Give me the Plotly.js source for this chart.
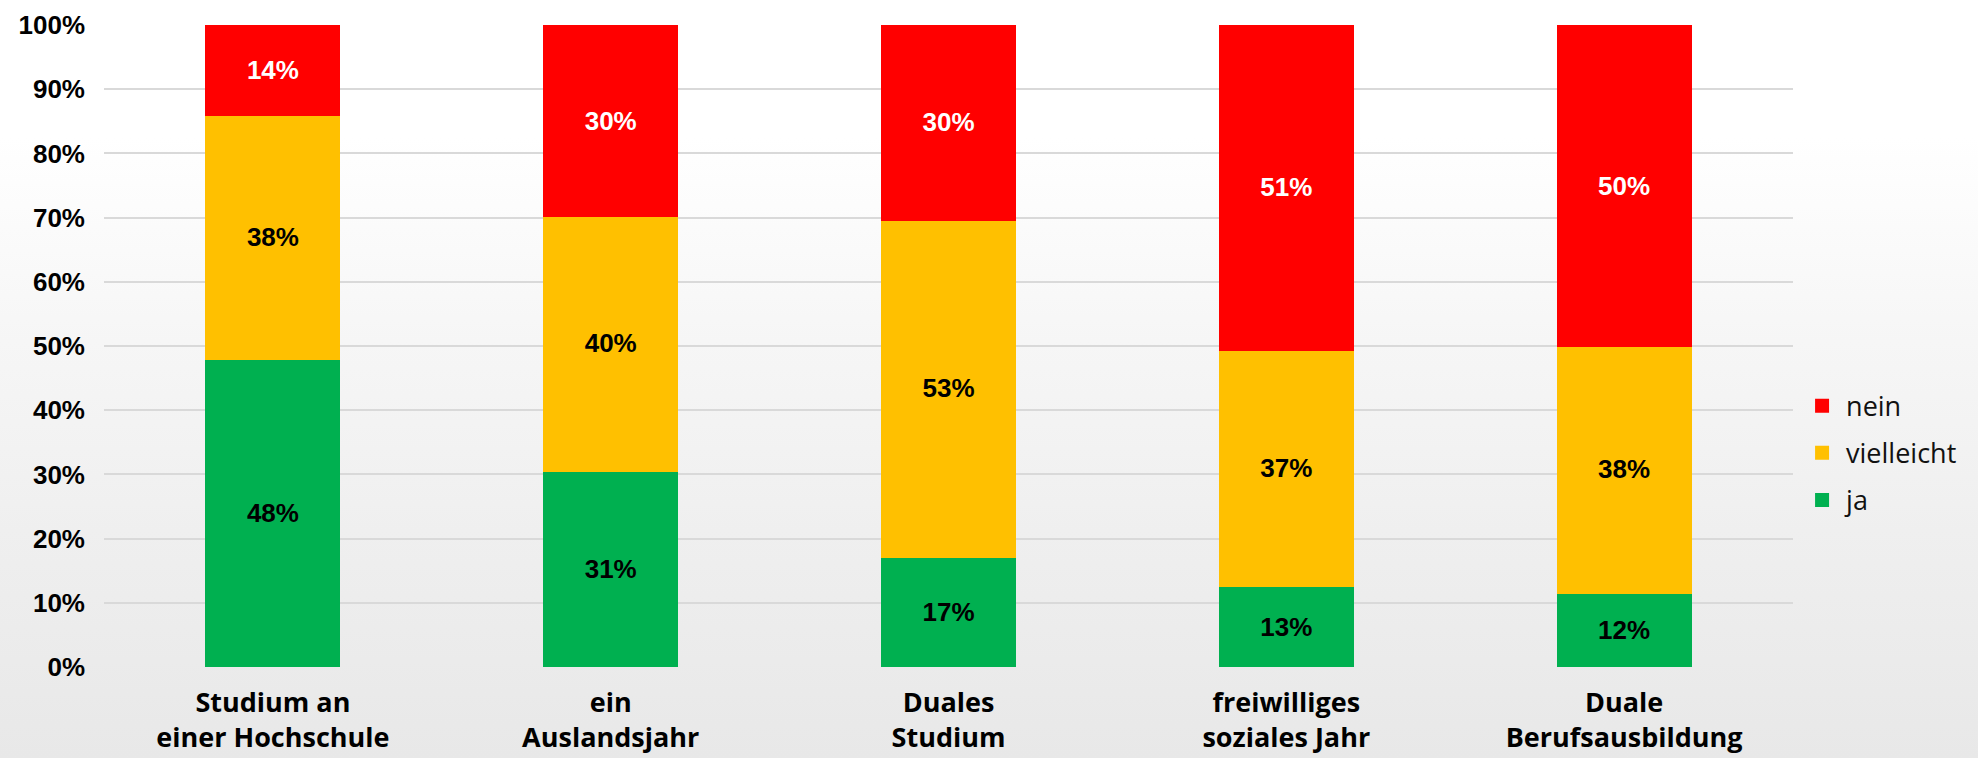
<!DOCTYPE html>
<html>
<head>
<meta charset="utf-8">
<script src="https://cdn.plot.ly/plotly-3.0.1.min.js"></script>
<style>
  html, body { margin: 0; padding: 0; }
  body {
    width: 1978px; height: 758px; overflow: hidden;
    background: linear-gradient(to bottom, #ffffff 0%, #ffffff 18%, #f6f6f6 45%, #efefef 70%, #e8e8e8 100%);
  }
  #chart { width: 1978px; height: 758px; }
</style>
</head>
<body>
<div id="chart"></div>
<script>
// Categories (x axis tick labels)
const categories = [
  'Studium an<br>einer Hochschule',
  'ein<br>Auslandsjahr',
  'Duales<br>Studium',
  'freiwilliges<br>soziales Jahr',
  'Duale<br>Berufsausbildung'
];
// Series values in percent
const ja         = [48, 30.6, 17.1, 12.6, 11.6];
const vielleicht = [38, 39.6, 52.6, 36.8, 38.4];
const nein       = [14, 29.8, 30.3, 50.6, 50.0];

const seriesNames = ['ja', 'vielleicht', 'nein'];
const seriesColors = ['#00B050', '#FFC000', '#FF0000'];
const labelColors = ['#000000', '#000000', '#FFFFFF'];
const legendRanks = [3, 2, 1];
const seriesValues = [ja, vielleicht, nein];

const traces = seriesValues.map((vals, i) => ({
  type: 'bar',
  name: seriesNames[i],
  legendgroup: seriesNames[i],
  legendrank: legendRanks[i],
  x: categories,
  y: vals,
  marker: { color: seriesColors[i], line: { color: seriesColors[i], width: 2 } },
  texttemplate: '%{y:.0f}%',
  textposition: 'inside',
  insidetextanchor: 'middle',
  textangle: 0,
  constraintext: 'none',
  insidetextfont: { family: 'Liberation Sans, Arial, sans-serif', size: 26, color: labelColors[i], weight: 'bold' },
  hoverinfo: 'skip'
}));

const layout = {
  width: 1978,
  height: 758,
  barmode: 'stack',
  bargap: 0.606,
  paper_bgcolor: 'rgba(0,0,0,0)',
  plot_bgcolor: 'rgba(0,0,0,0)',
  margin: { l: 104, r: 185, t: 25, b: 91, pad: 0 },
  showlegend: true,
  legend: {
    x: 1.003, xanchor: 'left',
    y: 0.333, yanchor: 'middle',
    traceorder: 'grouped',
    tracegroupgap: 9,
    itemwidth: 38,
    bgcolor: 'rgba(0,0,0,0)',
    font: { family: 'Open Sans, sans-serif', size: 27, color: '#111111' }
  },
  xaxis: {
    type: 'category',
    tickfont: { family: 'Open Sans, sans-serif', size: 27, color: '#000000', weight: 'bold' },
    showgrid: false,
    showline: false,
    zeroline: false,
    ticks: '',
    ticklabelstandoff: 17
  },
  yaxis: {
    range: [0, 100],
    dtick: 10,
    ticksuffix: '%',
    tickfont: { family: 'Liberation Sans, Arial, sans-serif', size: 26, color: '#000000', weight: 'bold' },
    showgrid: true,
    gridcolor: '#d9d9d9',
    gridwidth: 2,
    zeroline: false,
    showline: false,
    ticks: '',
    ticklabelstandoff: 18,
    fixedrange: true
  }
};

Plotly.newPlot('chart', traces, layout, { displayModeBar: false, staticPlot: true });
</script>
</body>
</html>
